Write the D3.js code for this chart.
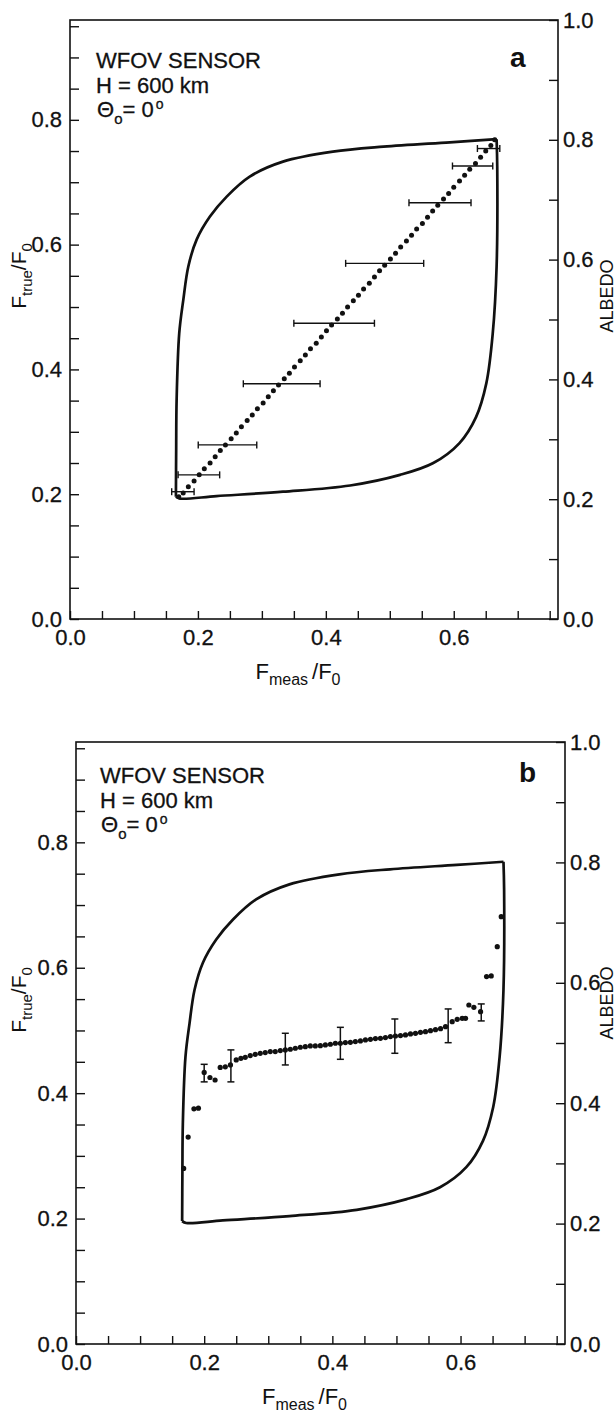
<!DOCTYPE html>
<html>
<head>
<meta charset="utf-8">
<script src="https://cdn.jsdelivr.net/npm/d3@7"></script>
<style>
  body { margin: 0; background: #fff; }
  svg text { font-family: "Liberation Sans", Arial, Helvetica, sans-serif; fill: #111; }
</style>
</head>
<body>
<svg id="chart" width="616" height="1412"></svg>
<script>
// Envelope of possible (F_meas, F_true) pairs: upper-left and lower-right branches
const envUpperX = [0.1656, 0.1660, 0.1667, 0.1708, 0.1771, 0.185, 0.198, 0.2188, 0.245, 0.281, 0.333, 0.411, 0.490, 0.594, 0.667];
const envUpperY = [0.196, 0.270, 0.351, 0.458, 0.511, 0.565, 0.608, 0.645, 0.677, 0.709, 0.733, 0.749, 0.757, 0.764, 0.769];
const envLowerX = [0.667, 0.668, 0.667, 0.661, 0.651, 0.635, 0.609, 0.568, 0.516, 0.438, 0.333, 0.229, 0.172, 0.1656];
const envLowerY = [0.769, 0.725, 0.565, 0.458, 0.378, 0.324, 0.282, 0.250, 0.231, 0.214, 0.204, 0.197, 0.193, 0.196];

// Panel a: mean F_true/F0 per F_meas/F0 bin
const aDotX = [0.170, 0.177, 0.185, 0.194, 0.202, 0.210, 0.219, 0.227, 0.235, 0.243, 0.252, 0.260, 0.268, 0.277, 0.285, 0.293, 0.302, 0.310, 0.318, 0.326, 0.335, 0.343, 0.351, 0.360, 0.368, 0.376, 0.385, 0.393, 0.401, 0.409, 0.418, 0.426, 0.434, 0.443, 0.451, 0.459, 0.468, 0.476, 0.484, 0.492, 0.501, 0.509, 0.517, 0.526, 0.534, 0.542, 0.551, 0.559, 0.567, 0.575, 0.584, 0.592, 0.600, 0.609, 0.617, 0.625, 0.634, 0.642, 0.650, 0.658, 0.664];
const aDotY = [0.196, 0.202, 0.212, 0.221, 0.231, 0.241, 0.250, 0.260, 0.270, 0.279, 0.289, 0.298, 0.308, 0.318, 0.327, 0.337, 0.346, 0.356, 0.366, 0.375, 0.385, 0.394, 0.404, 0.414, 0.423, 0.433, 0.442, 0.452, 0.462, 0.471, 0.481, 0.490, 0.500, 0.510, 0.519, 0.529, 0.538, 0.548, 0.558, 0.567, 0.577, 0.586, 0.596, 0.606, 0.615, 0.625, 0.634, 0.644, 0.654, 0.663, 0.673, 0.682, 0.692, 0.702, 0.711, 0.721, 0.730, 0.740, 0.750, 0.759, 0.768];
// Panel a: horizontal error bars (spread of F_meas/F0)
const aErrY  = [0.204, 0.231, 0.279, 0.377, 0.474, 0.570, 0.667, 0.726, 0.754];
const aErrLo = [0.159, 0.169, 0.2005, 0.271, 0.350, 0.431, 0.530, 0.598, 0.637];
const aErrHi = [0.194, 0.234, 0.292, 0.391, 0.476, 0.553, 0.627, 0.661, 0.672];

// Panel b: mean F_true/F0 per F_meas/F0 bin
const bDotX = [0.168, 0.175, 0.184, 0.191, 0.200, 0.209, 0.217, 0.225, 0.233, 0.241,
  0.2500, 0.2573, 0.2641, 0.2719, 0.2797, 0.2875, 0.2953, 0.3031, 0.3109, 0.3188, 0.3266, 0.3344, 0.3422, 0.3500, 0.3578, 0.3656, 0.3734, 0.3813, 0.3891, 0.3969,
  0.4047, 0.4125, 0.4203, 0.4281, 0.4359, 0.4438, 0.4516, 0.4594, 0.4672, 0.4750, 0.4828, 0.4906, 0.4984, 0.5063, 0.5141, 0.5219, 0.5297, 0.5375, 0.5453, 0.5531,
  0.5609, 0.5688, 0.5766, 0.5870, 0.5948, 0.6026, 0.6078, 0.6130, 0.6208, 0.6313, 0.6406, 0.6479, 0.6573, 0.6635];
const bDotY = [0.280, 0.330, 0.375, 0.376, 0.433, 0.425, 0.421, 0.441, 0.442, 0.445,
  0.4530, 0.4556, 0.4572, 0.4599, 0.4620, 0.4636, 0.4647, 0.4663, 0.4663, 0.4679, 0.4690, 0.4700, 0.4716, 0.4732, 0.4742, 0.4753, 0.4753, 0.4758, 0.4769, 0.4780,
  0.4796, 0.4796, 0.4806, 0.4811, 0.4822, 0.4833, 0.4849, 0.4859, 0.4870, 0.4875, 0.4886, 0.4902, 0.4912, 0.4918, 0.4928, 0.4944, 0.4955, 0.4971, 0.4981, 0.4997,
  0.5013, 0.5029, 0.5060, 0.5140, 0.5177, 0.5193, 0.5193, 0.5406, 0.5369, 0.5300, 0.5859, 0.5870, 0.6336, 0.6815];
// Panel b: vertical error bars (spread of F_true/F0)
const bErrX  = [0.200, 0.2417, 0.3266, 0.4125, 0.4975, 0.5807, 0.6323];
const bErrLo = [0.418, 0.418, 0.445, 0.454, 0.4636, 0.4805, 0.5152];
const bErrHi = [0.446, 0.469, 0.4955, 0.505, 0.5183, 0.5343, 0.5423];

// Axis tick values and labels
const xTickVals = d3.range(0, 0.751, 0.05);
const xLabelVals = [0.0, 0.2, 0.4, 0.6];
const yLeftTickVals = d3.range(0, 0.951, 0.05);
const yLeftLabelVals = [0.0, 0.2, 0.4, 0.6, 0.8];
const yRightTickVals = d3.range(0, 1.001, 0.1);
const yRightLabelVals = [0.0, 0.2, 0.4, 0.6, 0.8, 1.0];

const svg = d3.select("#chart");

const panels = [
  { id: "a", left: 70, right: 558, top: 20, bottom: 619, textDx: 26, textDy: [48, 73, 97],
    letterX: 510, letterDy: 47, ylabY: 276, albX: 613, albY: 296, dotR: 2.5 },
  { id: "b", left: 76, right: 565, top: 742, bottom: 1344, textDx: 24, textDy: [41, 66, 90],
    letterX: 519, letterDy: 40, ylabY: 1000, albX: 613, albY: 1003, dotR: 2.6 }
];

const near = (v, arr) => arr.some(a => Math.abs(a - v) < 1e-6);

function drawPanel(p) {
  const g = svg.append("g").attr("class", "panel-" + p.id);
  const x = d3.scaleLinear().domain([0, 0.763]).range([p.left, p.right]);
  const yL = d3.scaleLinear().domain([0, 0.96]).range([p.bottom, p.top]);
  const yR = d3.scaleLinear().domain([0, 1.0]).range([p.bottom, p.top]);

  // axes with inward ticks
  const fmt = labels => d => near(d, labels) ? d.toFixed(1) : "";
  const axB = g.append("g").attr("transform", `translate(0,${p.bottom})`)
    .call(d3.axisBottom(x).tickValues(xTickVals).tickSizeInner(-8).tickSizeOuter(0)
      .tickPadding(10).tickFormat(fmt(xLabelVals)));
  const axL = g.append("g").attr("transform", `translate(${p.left},0)`)
    .call(d3.axisLeft(yL).tickValues(yLeftTickVals).tickSizeInner(-9).tickSizeOuter(0)
      .tickPadding(8).tickFormat(fmt(yLeftLabelVals)));
  const axR = g.append("g").attr("transform", `translate(${p.right},0)`)
    .call(d3.axisRight(yR).tickValues(yRightTickVals).tickSizeInner(-9).tickSizeOuter(0)
      .tickPadding(5).tickFormat(fmt(yRightLabelVals)));
  [axB, axL, axR].forEach(a => {
    a.select(".domain").remove();
    a.selectAll(".tick line").attr("stroke", "#111").attr("stroke-width", 1.4);
    a.selectAll(".tick text").attr("font-size", 22).attr("font-family", null).attr("fill", "#111")
      .attr("stroke", "#111").attr("stroke-width", 0.3);
  });

  // frame
  g.append("rect")
    .attr("x", x(0)).attr("y", yR(1))
    .attr("width", x(0.763) - x(0)).attr("height", yR(0) - yR(1))
    .attr("fill", "none").attr("stroke", "#111").attr("stroke-width", 1.6);

  // envelope
  const line = d3.line().x(d => x(d[0])).y(d => yL(d[1])).curve(d3.curveCatmullRom.alpha(0.5));
  const upper = envUpperX.map((v, i) => [v, envUpperY[i]]);
  const lower = envLowerX.map((v, i) => [v, envLowerY[i]]);
  [upper, lower].forEach(pts => {
    g.append("path").attr("d", line(pts)).attr("fill", "none")
      .attr("stroke", "#111").attr("stroke-width", 2.7).attr("stroke-linejoin", "round");
  });

  const dotsX = p.id === "a" ? aDotX : bDotX;
  const dotsY = p.id === "a" ? aDotY : bDotY;

  // error bars
  const cap = 3.5;
  if (p.id === "a") {
    aErrY.forEach((yv, i) => {
      const eg = g.append("g").attr("stroke", "#111").attr("stroke-width", 1.4);
      eg.append("line").attr("x1", x(aErrLo[i])).attr("x2", x(aErrHi[i])).attr("y1", yL(yv)).attr("y2", yL(yv));
      eg.append("line").attr("x1", x(aErrLo[i])).attr("x2", x(aErrLo[i])).attr("y1", yL(yv) - cap).attr("y2", yL(yv) + cap);
      eg.append("line").attr("x1", x(aErrHi[i])).attr("x2", x(aErrHi[i])).attr("y1", yL(yv) - cap).attr("y2", yL(yv) + cap);
    });
  } else {
    bErrX.forEach((xv, i) => {
      const eg = g.append("g").attr("stroke", "#111").attr("stroke-width", 1.5);
      eg.append("line").attr("x1", x(xv)).attr("x2", x(xv)).attr("y1", yL(bErrLo[i])).attr("y2", yL(bErrHi[i]));
      eg.append("line").attr("x1", x(xv) - cap).attr("x2", x(xv) + cap).attr("y1", yL(bErrLo[i])).attr("y2", yL(bErrLo[i]));
      eg.append("line").attr("x1", x(xv) - cap).attr("x2", x(xv) + cap).attr("y1", yL(bErrHi[i])).attr("y2", yL(bErrHi[i]));
    });
  }

  // dots
  g.append("g").selectAll("circle").data(dotsX.map((v, i) => [v, dotsY[i]])).join("circle")
    .attr("cx", d => x(d[0])).attr("cy", d => yL(d[1])).attr("r", p.dotR).attr("fill", "#111");

  // annotation block
  const tx = p.left + p.textDx;
  const annot = t => t.attr("font-size", 22).attr("stroke", "#111").attr("stroke-width", 0.3);
  annot(g.append("text").attr("x", tx).attr("y", p.top + p.textDy[0])).text("WFOV SENSOR");
  annot(g.append("text").attr("x", tx).attr("y", p.top + p.textDy[1])).text("H = 600 km");
  const th = annot(g.append("text").attr("x", tx + 1).attr("y", p.top + p.textDy[2]));
  th.append("tspan").text("\u0398");
  th.append("tspan").attr("dx", 0).attr("dy", 7).attr("font-size", 15).text("o");
  th.append("tspan").attr("dy", -7).attr("dx", 0).text("= 0");
  th.append("tspan").attr("dy", -8).attr("dx", 2).attr("font-size", 14).text("o");

  // panel letter
  g.append("text").attr("x", p.letterX).attr("y", p.top + p.letterDy)
    .attr("font-size", 28).attr("font-weight", "bold").text(p.id);

  // x axis title
  const xt = g.append("text").attr("x", (p.left + p.right) / 2 - 16).attr("y", p.bottom + 60)
    .attr("text-anchor", "middle").attr("font-size", 22);
  xt.append("tspan").text("F");
  xt.append("tspan").attr("dy", 6).attr("font-size", 16).text("meas");
  xt.append("tspan").attr("dy", -6).attr("dx", 4).text("/F");
  xt.append("tspan").attr("dy", 6).attr("font-size", 16).text("0");

  // left y title
  const yt = g.append("text").attr("transform", `translate(26,${p.ylabY}) rotate(-90)`)
    .attr("text-anchor", "middle").attr("font-size", 21);
  yt.append("tspan").text("F");
  yt.append("tspan").attr("dy", 6).attr("font-size", 15).text("true");
  yt.append("tspan").attr("dy", -6).text("/F");
  yt.append("tspan").attr("dy", 6).attr("font-size", 15).text("0");

  // right y title
  g.append("text").attr("transform", `translate(${p.albX},${p.albY}) rotate(-90)`)
    .attr("text-anchor", "middle").attr("font-size", 18).text("ALBEDO");
}

panels.forEach(drawPanel);
</script>
</body>
</html>
